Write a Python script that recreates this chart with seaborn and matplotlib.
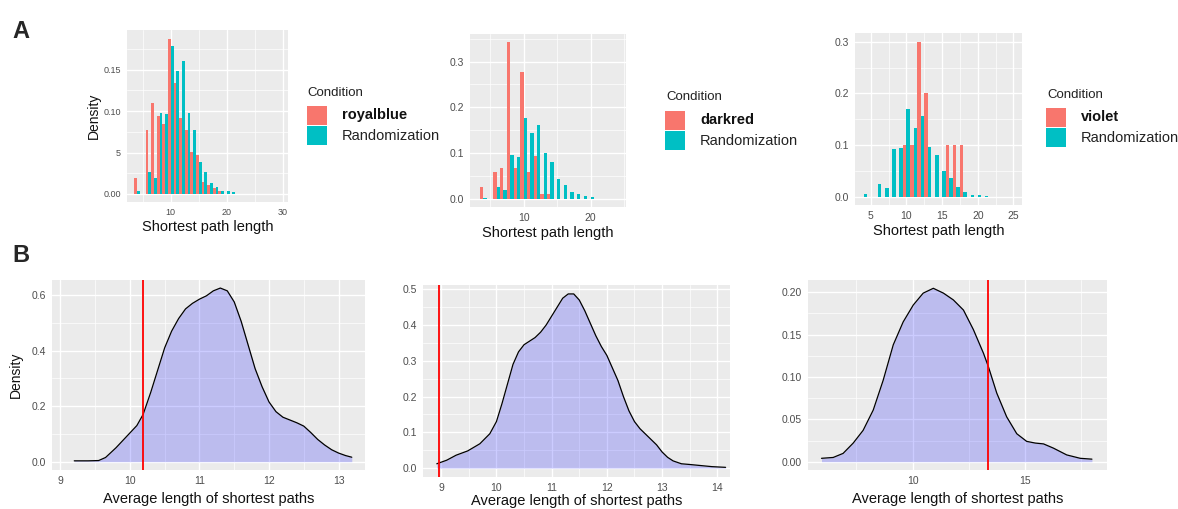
import matplotlib
matplotlib.use("Agg")
import matplotlib.pyplot as plt
from matplotlib.patches import Rectangle
from matplotlib.ticker import FixedLocator
import pandas as pd
import seaborn as sns

# -------------------------------
# Data
# -------------------------------
# A: shortest path length histograms (density per integer length)
len_a1 = [4, 5, 6, 7, 8, 9, 10, 11, 12, 13, 14, 15, 16, 17, 18, 19, 20, 21]
royalblue = [0.019, 0, 0.077, 0.110, 0.094, 0.084, 0.1875, 0.134, 0.092, 0.077,
             0.051, 0.047, 0.015, 0.011, 0.007, 0.003, 0, 0]
rand_a1 = [0.003, 0, 0.026, 0.019, 0.098, 0.097, 0.179, 0.148, 0.160, 0.098,
           0.077, 0.039, 0.027, 0.013, 0.008, 0.004, 0.003, 0.002]

len_a2 = [4, 5, 6, 7, 8, 9, 10, 11, 12, 13, 14, 15, 16, 17, 18, 19, 20]
darkred = [0.027, 0, 0.060, 0.067, 0.342, 0.067, 0.277, 0.060, 0.094, 0.011,
           0.011, 0, 0, 0, 0, 0, 0]
rand_a2 = [0.003, 0, 0.027, 0.020, 0.096, 0.091, 0.178, 0.145, 0.162, 0.101,
           0.082, 0.043, 0.031, 0.015, 0.011, 0.007, 0.004]

len_a3 = [4, 5, 6, 7, 8, 9, 10, 11, 12, 13, 14, 15, 16, 17, 18, 19, 20, 21]
violet = [0, 0, 0, 0, 0, 0, 0.1, 0.1, 0.3, 0.2, 0, 0, 0.1, 0.1, 0.1, 0, 0, 0]
rand_a3 = [0.005, 0, 0.024, 0.016, 0.092, 0.095, 0.169, 0.134, 0.157, 0.097,
           0.081, 0.050, 0.037, 0.019, 0.010, 0.003, 0.003, 0.002]

# B: density of average shortest path length under randomization
avg_b1 = [9.2, 9.4, 9.55, 9.65, 9.8, 9.95, 10.1, 10.19, 10.3, 10.4, 10.5, 10.6,
          10.7, 10.8, 10.9, 11.0, 11.1, 11.2, 11.3, 11.4, 11.5, 11.6, 11.7, 11.8,
          11.9, 12.0, 12.1, 12.2, 12.3, 12.4, 12.5, 12.6, 12.7, 12.8, 12.9, 13.0,
          13.1, 13.19]
dens_b1 = [0.003, 0.003, 0.004, 0.015, 0.05, 0.09, 0.13, 0.17, 0.25, 0.33, 0.41,
           0.47, 0.515, 0.55, 0.57, 0.585, 0.597, 0.615, 0.625, 0.615, 0.575, 0.505,
           0.42, 0.335, 0.27, 0.215, 0.18, 0.16, 0.15, 0.14, 0.128, 0.105, 0.08,
           0.06, 0.043, 0.031, 0.022, 0.016]

avg_b2 = [8.92, 9.1, 9.27, 9.48, 9.7, 9.88, 10.0, 10.1, 10.2, 10.3, 10.4, 10.5,
          10.6, 10.7, 10.8, 10.9, 11.0, 11.1, 11.2, 11.3, 11.4, 11.5, 11.6, 11.7,
          11.8, 11.9, 12.0, 12.1, 12.2, 12.3, 12.4, 12.5, 12.6, 12.7, 12.8, 12.9,
          13.0, 13.1, 13.2, 13.35, 13.5, 13.7, 13.9, 14.15]
dens_b2 = [0.012, 0.022, 0.036, 0.048, 0.068, 0.096, 0.13, 0.18, 0.235, 0.29,
           0.325, 0.345, 0.355, 0.365, 0.38, 0.40, 0.425, 0.45, 0.475, 0.487,
           0.487, 0.47, 0.44, 0.405, 0.37, 0.34, 0.315, 0.28, 0.245, 0.20, 0.16,
           0.13, 0.11, 0.095, 0.08, 0.065, 0.045, 0.03, 0.02, 0.012, 0.01, 0.007,
           0.004, 0.002]

avg_b3 = [5.95, 6.47, 6.91, 7.36, 7.8, 8.25, 8.69, 9.14, 9.58, 10.03, 10.47,
          10.92, 11.37, 11.81, 12.26, 12.7, 13.15, 13.37, 13.74, 14.18, 14.63,
          15.07, 15.45, 15.82, 16.26, 16.85, 17.45, 17.97]
dens_b3 = [0.004, 0.005, 0.0098, 0.022, 0.037, 0.061, 0.096, 0.138, 0.165, 0.185,
           0.199, 0.2047, 0.199, 0.191, 0.179, 0.156, 0.128, 0.112, 0.081, 0.053,
           0.033, 0.024, 0.022, 0.021, 0.016, 0.008, 0.004, 0.003]

observed = [10.19, 8.96, 13.37]

RED = "#F8766D"
TEAL = "#00BFC4"
W, H = 1178, 509

# -------------------------------
# Style
# -------------------------------
sns.set_theme(style="darkgrid")
plt.rcParams["font.family"] = ["Liberation Sans", "DejaVu Sans"]

fig = plt.figure(figsize=(W / 100, H / 100), dpi=100)


def add_ax(left, right, top, bottom):
    return fig.add_axes([left / W, 1 - bottom / H, (right - left) / W, (bottom - top) / H])


def gg_style(ax, xmaj, xmin, ymaj, ymin, tsize):
    ax.set_facecolor("#EBEBEB")
    ax.xaxis.set_major_locator(FixedLocator(xmaj))
    ax.xaxis.set_minor_locator(FixedLocator(xmin))
    ax.yaxis.set_major_locator(FixedLocator(ymaj))
    ax.yaxis.set_minor_locator(FixedLocator(ymin))
    ax.grid(which="major", color="white", lw=1.0)
    ax.grid(which="minor", color="white", lw=0.5)
    ax.tick_params(which="minor", length=0)
    ax.tick_params(which="major", length=3, width=0.8, color="#333333",
                   labelsize=tsize, labelcolor="#4D4D4D", pad=1.5)
    for s in ax.spines.values():
        s.set_visible(False)
    ax.set_axisbelow(True)


def fig_text(x, y, s, **kw):
    fig.text(x / W, 1 - y / H, s, va="center", **kw)


def legend(x, title_x, ty, ky, name):
    fig_text(title_x, ty, "Condition", fontsize=9.5, color="#222222")
    for i, col in enumerate([RED, TEAL]):
        fig.add_artist(Rectangle((x / W, 1 - (ky + 20 * (i + 1)) / H), 20 / W, 19 / H,
                                 transform=fig.transFigure, color=col, lw=0))
    fig_text(x + 35, ky + 10, name, fontsize=10.5, fontweight="bold", color="#111111")
    fig_text(x + 35, ky + 31, "Randomization", fontsize=10.5, color="#222222")


# -------------------------------
# A: histograms
# -------------------------------
panels_a = [
    (len_a1, royalblue, rand_a1, "royalblue", (127, 288, 30, 202), (2.2, 30.9), (-0.0097, 0.198)),
    (len_a2, darkred, rand_a2, "darkred", (470, 626, 34, 207), (2.0, 25.3), (-0.017, 0.36)),
    (len_a3, violet, rand_a3, "violet", (855, 1022, 33, 205), (2.8, 26.2), (-0.016, 0.317)),
]
axes_a = []
for lens, obs, rnd, name, box, xl, yl in panels_a:
    ax = add_ax(*box)
    df = pd.DataFrame({
        "len": lens + lens,
        "density": obs + rnd,
        "Condition": [name] * len(lens) + ["Randomization"] * len(lens),
    })
    sns.histplot(data=df, x="len", weights="density", hue="Condition",
                 hue_order=[name, "Randomization"], palette=[RED, TEAL],
                 multiple="dodge", discrete=True, shrink=1, alpha=1,
                 linewidth=0, legend=False, ax=ax)
    ax.set_xlim(*xl)
    ax.set_ylim(*yl)
    ax.set_xlabel("Shortest path length", fontsize=10.5, color="#111111", labelpad=2)
    ax.set_ylabel("")
    axes_a.append(ax)

gg_style(axes_a[0], [10, 20, 30], [5, 15, 25], [0, 0.05, 0.10, 0.15],
         [0.025, 0.075, 0.125, 0.175], 6.5)
axes_a[0].set_yticklabels(["0.00", "5", "0.10", "0.15"])
axes_a[0].set_ylabel("Density", fontsize=10, color="#111111", labelpad=2)
gg_style(axes_a[1], [10, 20], [5, 15, 25], [0, 0.1, 0.2, 0.3],
         [0.05, 0.15, 0.25, 0.35], 7.5)
axes_a[1].set_yticklabels(["0.0", "0.1", "0.2", "0.3"])
gg_style(axes_a[2], [5, 10, 15, 20, 25], [7.5, 12.5, 17.5, 22.5], [0, 0.1, 0.2, 0.3],
         [0.05, 0.15, 0.25], 7.5)
axes_a[2].set_yticklabels(["0.0", "0.1", "0.2", "0.3"])

legend(307, 307, 93, 105, "royalblue")
legend(665, 666, 97, 110, "darkred")
legend(1046, 1047, 95, 107, "violet")

# -------------------------------
# B: randomization densities
# -------------------------------
panels_b = [
    (avg_b1, dens_b1, observed[0], (52, 365, 280, 470), (8.88, 13.38), (-0.030, 0.654),
     [9, 10, 11, 12, 13], [9.5, 10.5, 11.5, 12.5], [0, 0.2, 0.4, 0.6], [0.1, 0.3, 0.5],
     ["0.0", "0.2", "0.4", "0.6"], 4),
    (avg_b2, dens_b2, observed[1], (423, 730, 285, 477), (8.67, 14.23), (-0.025, 0.512),
     [9, 10, 11, 12, 13, 14], [9.5, 10.5, 11.5, 12.5, 13.5],
     [0, 0.1, 0.2, 0.3, 0.4, 0.5], [0.05, 0.15, 0.25, 0.35, 0.45],
     ["0.0", "0.1", "0.2", "0.3", "0.4", "0.5"], 0.5),
    (avg_b3, dens_b3, observed[2], (808, 1107, 280, 470), (5.35, 18.64), (-0.0098, 0.2145),
     [10, 15], [7.5, 12.5, 17.5], [0, 0.05, 0.10, 0.15, 0.20],
     [0.025, 0.075, 0.125, 0.175], ["0.00", "0.05", "0.10", "0.15", "0.20"], 4),
]
axes_b = []
for xs, ys, vline, box, xl, yl, xmaj, xmin, ymaj, ymin, ylabs, pad in panels_b:
    ax = add_ax(*box)
    gg_style(ax, xmaj, xmin, ymaj, ymin, 7.5)
    ax.fill_between(xs, ys, color="blue", alpha=0.2, lw=0)
    sns.lineplot(x=xs, y=ys, color="black", lw=0.9, ax=ax)
    ax.axvline(vline, color="red", lw=1.3)
    ax.set_xlim(*xl)
    ax.set_ylim(*yl)
    ax.set_yticklabels(ylabs)
    ax.set_xlabel("Average length of shortest paths", fontsize=10.5, color="#111111", labelpad=pad)
    ax.set_ylabel("")
    axes_b.append(ax)

axes_b[0].set_ylabel("Density", fontsize=10, color="#111111", labelpad=6)

fig_text(21, 31, "A", fontsize=17, fontweight="bold", ha="center")
fig_text(21, 255, "B", fontsize=17, fontweight="bold", ha="center")

fig.savefig("out.png", dpi=100, facecolor="white")
